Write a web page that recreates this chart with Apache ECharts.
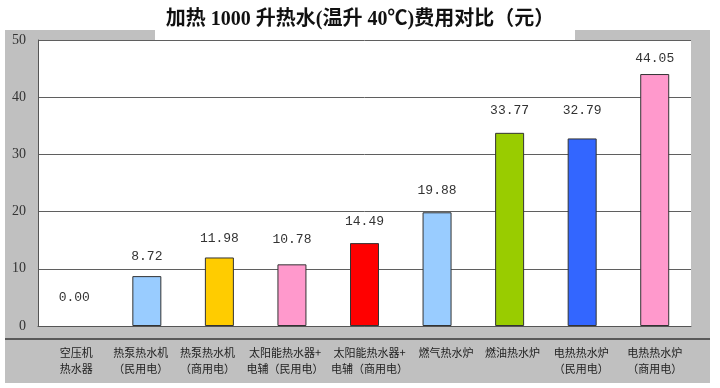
<!DOCTYPE html>
<html>
<head>
<meta charset="utf-8">
<script src="https://cdn.jsdelivr.net/npm/echarts@6/dist/echarts.min.js"></script>
<style>html,body{margin:0;padding:0;background:#fff}#c{width:720px;height:388px}</style>
</head>
<body>
<div id="c"></div>
<script>
const titleText = '加热 1000 升热水(温升 40℃)费用对比（元）';
const categories = [
  ['空压机', '热水器'],
  ['热泵热水机', '（民用电）'],
  ['热泵热水机', '（商用电）'],
  ['太阳能热水器+', '电辅（民用电）'],
  ['太阳能热水器+', '电辅（商用电）'],
  ['燃气热水炉', ''],
  ['燃油热水炉', ''],
  ['电热热水炉', '（民用电）'],
  ['电热热水炉', '（商用电）']
];
const costs = [0.00, 8.72, 11.98, 10.78, 14.49, 19.88, 33.77, 32.79, 44.05];
const barColors = ['#99CCFF', '#99CCFF', '#FFCC00', '#FF99CC', '#FF0000', '#99CCFF', '#99CC00', '#3366FF', '#FF99CC'];
const yTicks = [0, 10, 20, 30, 40, 50];

// styling helpers (not data)
const labelGap = [21.5, 13, 12, 18, 15, 15.5, 15.5, 21, 8.5];
const nameNudge = [2, -6, -12, -7, 5, 9, 3, -1, 0];

const chart = echarts.init(document.getElementById('c'), null, {renderer: 'canvas'});

const rich = {};
nameNudge.forEach((n, i) => {
  rich['s' + i] = {
    fontFamily: "'Noto Sans CJK SC', sans-serif",
    fontSize: 11,
    color: '#222',
    lineHeight: 16,
    padding: n >= 0 ? [0, 0, 0, 2 * n] : [0, -2 * n, 0, 0]
  };
});

const option = {
  animation: false,
  backgroundColor: '#ffffff',
  graphic: [
    {type: 'rect', z: -10, silent: true, shape: {x: 5, y: 30, width: 705, height: 353}, style: {fill: '#C0C0C0'}},
    {type: 'rect', z: -9, silent: true, shape: {x: 155, y: 28, width: 420, height: 12}, style: {fill: '#ffffff'}},
    {type: 'line', z: -8, silent: true, shape: {x1: 5, y1: 339, x2: 710, y2: 339}, style: {stroke: '#5a5a5a', lineWidth: 2}}
  ],
  title: {
    text: titleText,
    left: 'center',
    top: 5,
    textStyle: {
      fontFamily: "'Liberation Serif', 'Noto Sans CJK SC', serif",
      fontSize: 20,
      fontWeight: 'bold',
      color: '#111'
    }
  },
  grid: {
    left: 38, right: 29, top: 40, bottom: 62,
    show: true, backgroundColor: '#ffffff', borderWidth: 0
  },
  xAxis: {
    type: 'category',
    data: categories.map(c => c.join('\n')),
    axisTick: {show: false},
    axisLine: {show: true, lineStyle: {color: '#555', width: 1}},
    axisLabel: {
      interval: 0,
      margin: 19,
      formatter: function (v, i) {
        return v.split('\n').filter(s => s).map(s => '{s' + i + '|' + s + '}').join('\n');
      },
      rich: rich
    }
  },
  yAxis: {
    type: 'value',
    min: 0, max: 50, interval: 10,
    axisLine: {show: true, lineStyle: {color: '#555', width: 1}},
    axisTick: {show: false},
    splitLine: {show: true, lineStyle: {color: '#5f5f5f', width: 1}},
    axisLabel: {
      margin: 12,
      fontFamily: "'Liberation Serif', serif",
      fontSize: 14,
      color: '#333',
      formatter: v => yTicks.includes(v) ? String(v) : ''
    }
  },
  series: [{
    type: 'bar',
    barWidth: 29,
    data: costs.map((v, i) => ({
      value: v,
      itemStyle: {color: barColors[i], borderColor: '#333', borderWidth: v > 0 ? 1 : 0},
      label: {distance: labelGap[i]}
    })),
    label: {
      show: true,
      position: 'top',
      fontFamily: "'Liberation Mono', monospace",
      fontSize: 13,
      lineHeight: 13,
      color: '#333',
      formatter: p => p.value.toFixed(2)
    }
  }]
};
chart.setOption(option);
</script>
</body>
</html>
